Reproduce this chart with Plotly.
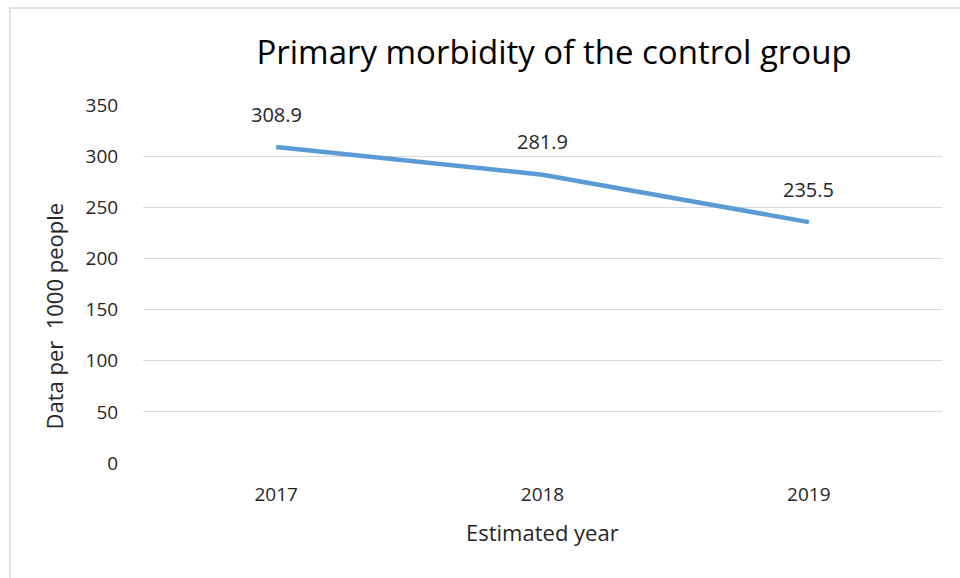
import plotly.graph_objects as go

# Primary morbidity, control group (per 1000 people)
years = ["2017", "2018", "2019"]
rates = [308.9, 281.9, 235.5]
y_ticks = [0, 50, 100, 150, 200, 250, 300, 350]

FONT = "Open Sans, sans-serif"
TXT = "#262626"
LINE = "#5B9BD5"

fig = go.Figure()
fig.add_trace(go.Scatter(
    x=years, y=rates, mode="lines",
    line=dict(color=LINE, width=4.5),
    hoverinfo="x+y", showlegend=False,
))

# value labels above each point (x given as category index)
for i, v in enumerate(rates):
    fig.add_annotation(
        x=i, y=v, text=f"{v:.1f}", showarrow=False,
        xanchor="center", yanchor="middle",
        yshift=33, font=dict(family=FONT, size=20, color=TXT),
    )

# axis titles
fig.add_annotation(
    xref="paper", yref="paper", x=0.5, y=-0.193, text="Estimated year",
    xanchor="center", yanchor="middle",
    showarrow=False, font=dict(family=FONT, size=22, color=TXT),
)
fig.add_annotation(
    xref="paper", yref="paper", x=-0.111, y=0.41, text="Data per  1000 people",
    xanchor="center", yanchor="middle",
    textangle=-90, showarrow=False, font=dict(family=FONT, size=22, color=TXT),
)

# chart frame
fig.add_shape(
    type="rect", xref="paper", yref="paper",
    x0=-0.1665, x1=1.05, y0=-0.4, y1=1.271,
    line=dict(color="#d9d9d9", width=1.5), layer="below",
)

fig.update_layout(
    width=960, height=578,
    margin=dict(l=143, r=18, t=105, b=115),
    paper_bgcolor="white", plot_bgcolor="white",
    title=dict(
        text="Primary morbidity of the control group",
        x=554 / 960, xanchor="center", y=1 - 52 / 578, yanchor="middle",
        font=dict(family=FONT, size=33, color="#000000"),
    ),
    xaxis=dict(
        type="category", range=[-0.5, 2.5],
        showgrid=False, showline=False, zeroline=False,
        tickfont=dict(family=FONT, size=19, color=TXT),
        ticks="outside", ticklen=0, ticklabelstandoff=14,
    ),
    yaxis=dict(
        range=[0, 350], tickvals=y_ticks,
        showgrid=True, gridcolor="#d9d9d9", gridwidth=1,
        zeroline=False, showline=False,
        tickfont=dict(family=FONT, size=19, color=TXT),
        ticks="outside", ticklen=0, ticklabelstandoff=20,
    ),
)

fig.write_html("out.html")
